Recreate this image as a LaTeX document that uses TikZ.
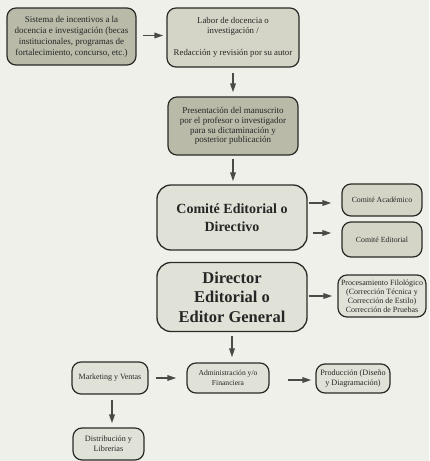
\documentclass[tikz,border=0pt]{standalone}
\usepackage{fontspec}
\setmainfont{Liberation Serif}
\usetikzlibrary{arrows.meta}
\definecolor{bg}{HTML}{F0F0EB}
\definecolor{darkfill}{HTML}{B9BBA8}
\definecolor{midfill}{HTML}{D4D5C6}
\definecolor{lightfill}{HTML}{E1E2D7}
\definecolor{edge}{HTML}{2A2A27}
\definecolor{arrowcol}{HTML}{4A4A46}
\tikzset{
  box/.style={draw=edge, line width=1.2pt, rounded corners=9pt, align=center, inner sep=0pt, text=black!85},
  bigbox/.style={box, line width=1.3pt, rounded corners=14pt},
  arr/.style={draw=arrowcol, line width=1.5pt, -{Triangle[length=9pt,width=5.5pt]}}
}
\begin{document}
\begin{tikzpicture}[x=1pt,y=-1pt]
\fill[bg] (0,0) rectangle (429,461);
\useasboundingbox (0,0) rectangle (429,461);

\node[box, fill=darkfill, minimum width=129pt, minimum height=57pt, font=\fontsize{9}{11}\selectfont] (sis) at (71.5,36.5)
  {Sistema de incentivos a la\\docencia e investigación (becas\\institucionales, programas de\\fortalecimiento, concurso, etc.)};
\node[box, fill=midfill, minimum width=132pt, minimum height=59pt, font=\fontsize{8.8}{9.8}\selectfont] (lab) at (233,37.5)
  {Labor de docencia o\\investigación /\\[12pt]Redacción y revisión por su autor};
\node[box, fill=darkfill, minimum width=130pt, minimum height=58pt, font=\fontsize{9}{9.8}\selectfont] (pres) at (233,126)
  {Presentación del manuscrito\\por el profesor o investigador\\para su dictaminación y\\posterior publicación};
\node[bigbox, fill=lightfill, minimum width=150pt, minimum height=65pt, font=\fontsize{14}{18}\selectfont\bfseries] (com) at (232,217.5)
  {Comité Editorial o\\Directivo};
\node[box, fill=midfill, minimum width=80pt, minimum height=32pt, font=\fontsize{7.8}{9}\selectfont] (acad) at (382,200)
  {Comité Académico};
\node[box, fill=midfill, minimum width=80pt, minimum height=35pt, font=\fontsize{7.8}{9}\selectfont] (ced) at (382,239.5)
  {Comité Editorial};
\node[bigbox, fill=lightfill, minimum width=150pt, minimum height=69pt, font=\fontsize{16.5}{19.5}\selectfont\bfseries] (dir) at (232,297)
  {Director\\Editorial o\\Editor General};
\node[box, fill=lightfill, minimum width=88pt, minimum height=42pt, font=\fontsize{8}{9}\selectfont] (proc) at (382,296)
  {Procesamiento Filológico\\(Corrección Técnica y\\Corrección de Estilo)\\Corrección de Pruebas};
\node[box, fill=lightfill, minimum width=82pt, minimum height=30pt, font=\fontsize{7.6}{9.5}\selectfont] (adm) at (228,378)
  {Administración y/o\\Financiera};
\node[box, fill=lightfill, minimum width=76pt, minimum height=32pt, font=\fontsize{8}{9.5}\selectfont] (mkt) at (110,378)
  {Marketing y Ventas};
\node[box, fill=lightfill, minimum width=74pt, minimum height=29pt, font=\fontsize{8.2}{9.5}\selectfont] (prod) at (353,378.5)
  {Producción (Diseño\\y Diagramación)};
\node[box, fill=lightfill, minimum width=71pt, minimum height=32pt, font=\fontsize{8.2}{10}\selectfont] (dist) at (108.5,444)
  {Distribución y\\Librerias};

\draw[arr, shorten <=6pt, shorten >=3pt] (sis.east |- 0,35.5) -- (lab.west |- 0,35.5);
\draw[arr, shorten <=5pt, shorten >=4pt] (lab.south) -- (pres.north);
\draw[arr, shorten <=3pt, shorten >=3pt] (pres.south) -- (pres.south |- com.north);
\draw[arr, shorten <=1pt, shorten >=10pt] (com.east |- 0,203) -- (acad.west |- 0,203);
\draw[arr, shorten <=5pt, shorten >=10pt] (com.east |- 0,233) -- (ced.west |- 0,233);
\draw[arr, shorten <=1pt, shorten >=5pt] (dir.east |- 0,296) -- (proc.west |- 0,296);
\draw[arr, shorten <=4pt, shorten >=5pt] (dir.south) -- (dir.south |- adm.north);
\draw[arr, shorten <=7pt, shorten >=10pt] (mkt.east |- 0,378) -- (adm.west |- 0,378);
\draw[arr, shorten <=18pt, shorten >=4pt] (adm.east |- 0,380) -- (prod.west |- 0,380);
\draw[arr, shorten <=5pt, shorten >=4pt] (mkt.south -| 112,0) -- (dist.north -| 112,0);
\end{tikzpicture}
\end{document}
